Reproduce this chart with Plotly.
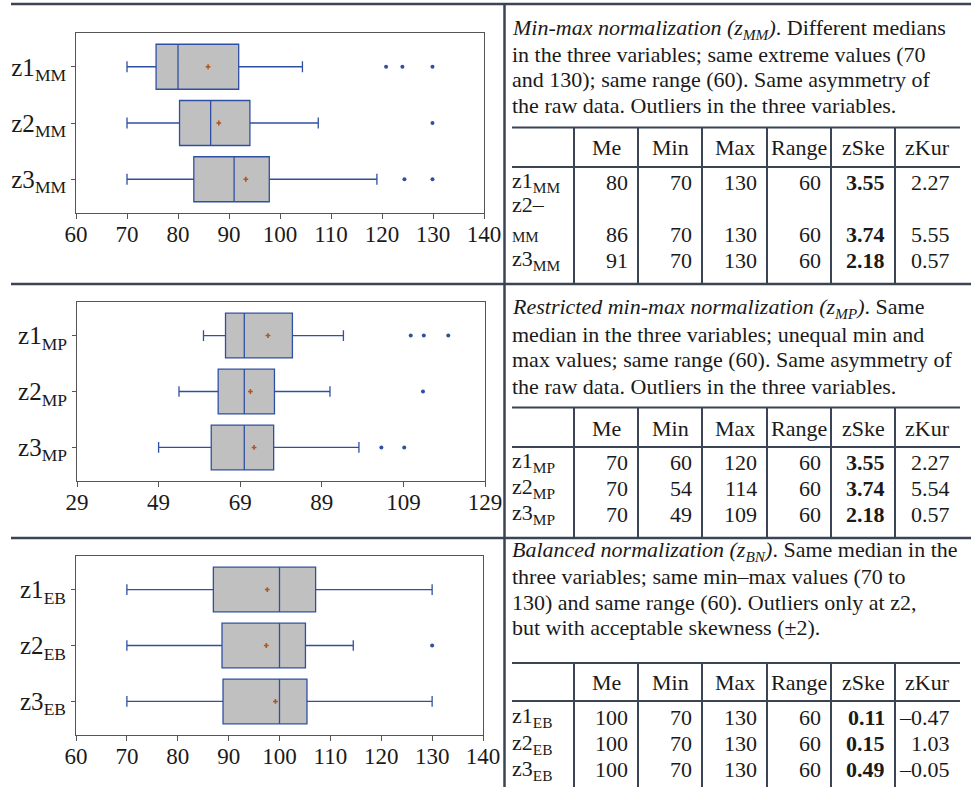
import plotly.graph_objects as go

W, H = 971, 787


def px(x):
    return x / W


def py(y):
    return 1 - y / H


# ---------------- data: boxplots ----------------
rows = ["z1", "z2", "z3"]

mm_q1 = [75.7, 80.3, 83.1]
mm_med = [80.0, 86.4, 91.0]
mm_q3 = [91.9, 94.1, 97.9]
mm_lo = [70, 70, 70]
mm_hi = [104.4, 107.5, 119.0]
mm_mean = [85.9, 88.0, 93.3]
mm_out_x = [120.8, 124.0, 129.9, 129.9, 124.4, 129.9]
mm_out_y = ["z1", "z1", "z1", "z2", "z3", "z3"]
mm_ticks = [60, 70, 80, 90, 100, 110, 120, 130, 140]

mp_q1 = [65.4, 63.6, 61.9]
mp_med = [70, 70, 70]
mp_q3 = [81.8, 77.4, 77.2]
mp_lo = [60, 54, 49]
mp_hi = [94.3, 91.0, 98.1]
mp_mean = [75.8, 71.5, 72.4]
mp_out_x = [110.8, 114.0, 120.0, 113.8, 103.6, 109.2]
mp_out_y = ["z1", "z1", "z1", "z2", "z3", "z3"]
mp_ticks = [29, 49, 69, 89, 109, 129]

eb_q1 = [87.0, 88.7, 88.9]
eb_med = [100, 100, 100]
eb_q3 = [107.1, 105.1, 105.4]
eb_lo = [70, 70, 70]
eb_hi = [130, 114.5, 130]
eb_mean = [97.6, 97.4, 99.2]
eb_out_x = [130]
eb_out_y = ["z2"]
eb_ticks = [60, 70, 80, 90, 100, 110, 120, 130, 140]

# ---------------- data: tables ----------------
headers = ["Me", "Min", "Max", "Range", "zSke", "zKur"]
mm_table = [["80", "70", "130", "60", "3.55", "2.27"],
            ["86", "70", "130", "60", "3.74", "5.55"],
            ["91", "70", "130", "60", "2.18", "0.57"]]
mp_table = [["70", "60", "120", "60", "3.55", "2.27"],
            ["70", "54", "114", "60", "3.74", "5.54"],
            ["70", "49", "109", "60", "2.18", "0.57"]]
eb_table = [["100", "70", "130", "60", "0.11", "\u20130.47"],
            ["100", "70", "130", "60", "0.15", "1.03"],
            ["100", "70", "130", "60", "0.49", "\u20130.05"]]

mm_text = ["<i>Min-max normalization (z<sub>MM</sub>)</i>. Different medians",
           "in the three variables; same extreme values (70",
           "and 130); same range (60). Same asymmetry of",
           "the raw data. Outliers in the three variables."]
mp_text = ["<i>Restricted min-max normalization (z<sub>MP</sub>)</i>. Same",
           "median in the three variables; unequal min and",
           "max values; same range (60). Same asymmetry of",
           "the raw data. Outliers in the three variables."]
eb_text = ["<i>Balanced normalization (z<sub>BN</sub>)</i>. Same median in the",
           "three variables; same min\u2013max values (70 to",
           "130) and same range (60). Outliers only at z2,",
           "but with acceptable skewness (\u00b12)."]

# ---------------- styling ----------------
FONT = "'Liberation Serif', 'Times New Roman', 'DejaVu Serif', serif"
TXT = "#1a1a1a"
BLUE = "#2f50a2"
FILL = "#c0c0c0"
MEANC = "#b0561e"
RULE = "#3b4455"
FRAME = "#555555"
PARA_SIZE = 22
CELL_SIZE = 22

panels = [
    dict(sub="MM", q1=mm_q1, med=mm_med, q3=mm_q3, lo=mm_lo, hi=mm_hi, mean=mm_mean,
         ox=mm_out_x, oy=mm_out_y, ticks=mm_ticks, xd=(76, 484), yd=(33, 213)),
    dict(sub="MP", q1=mp_q1, med=mp_med, q3=mp_q3, lo=mp_lo, hi=mp_hi, mean=mp_mean,
         ox=mp_out_x, oy=mp_out_y, ticks=mp_ticks, xd=(77, 485), yd=(302, 481)),
    dict(sub="EB", q1=eb_q1, med=eb_med, q3=eb_q3, lo=eb_lo, hi=eb_hi, mean=eb_mean,
         ox=eb_out_x, oy=eb_out_y, ticks=eb_ticks, xd=(76, 483), yd=(556, 735)),
]

fig = go.Figure()
layout = dict(
    template="none",
    width=W, height=H, margin=dict(l=0, r=0, t=0, b=0, pad=0, autoexpand=False),
    paper_bgcolor="white", plot_bgcolor="white", showlegend=False,
    font=dict(family=FONT, color=TXT),
)

for i, p in enumerate(panels):
    n = "" if i == 0 else str(i + 1)
    xa, ya = "x" + n, "y" + n
    fig.add_trace(go.Box(
        orientation="h", y=rows, q1=p["q1"], median=p["med"], q3=p["q3"],
        lowerfence=p["lo"], upperfence=p["hi"],
        fillcolor=FILL, line=dict(color=BLUE, width=1.3),
        width=0.8, whiskerwidth=0.24, xaxis=xa, yaxis=ya,
        hoverinfo="skip", showlegend=False))
    fig.add_trace(go.Scatter(
        x=p["mean"], y=rows, mode="markers", xaxis=xa, yaxis=ya,
        marker=dict(symbol="cross", size=4, color=MEANC, line=dict(width=0)),
        hoverinfo="skip", showlegend=False))
    fig.add_trace(go.Scatter(
        x=p["ox"], y=p["oy"], mode="markers", xaxis=xa, yaxis=ya,
        marker=dict(symbol="circle", size=4, color=BLUE, line=dict(width=0)),
        hoverinfo="skip", showlegend=False))
    layout["xaxis" + n] = dict(
        domain=[px(p["xd"][0]), px(p["xd"][1])], anchor=ya, automargin=False,
        range=[p["ticks"][0], p["ticks"][-1]], tickvals=p["ticks"],
        showgrid=False, zeroline=False, showline=True, mirror=True,
        linecolor=FRAME, linewidth=1, ticks="outside", ticklen=5,
        ticklabelstandoff=-5,
        tickcolor=FRAME, tickfont=dict(family=FONT, size=23, color=TXT))
    layout["yaxis" + n] = dict(
        domain=[py(p["yd"][1]), py(p["yd"][0])], anchor=xa, automargin=False,
        type="category", categoryorder="array", categoryarray=rows,
        range=[2.6, -0.6], tickvals=rows,
        ticktext=[r + "<sub>" + p["sub"] + "</sub>" for r in rows],
        showgrid=False, zeroline=False, showline=True, mirror=True,
        linecolor=FRAME, linewidth=1, ticks="outside", ticklen=4,
        tickcolor=FRAME, tickfont=dict(family=FONT, size=25, color=TXT))

shapes = []
annotations = []


def hline(x0, x1, y, w=2):
    shapes.append(dict(type="line", xref="paper", yref="paper",
                       x0=px(x0), x1=px(x1), y0=py(y), y1=py(y),
                       line=dict(color=RULE, width=w)))


def vline(x, y0, y1, w=2):
    shapes.append(dict(type="line", xref="paper", yref="paper",
                       x0=px(x), x1=px(x), y0=py(y0), y1=py(y1),
                       line=dict(color=RULE, width=w)))


def text(s, x, y, anchor="left", size=CELL_SIZE):
    annotations.append(dict(text=s, x=px(x), y=py(y), xref="paper", yref="paper",
                            xanchor=anchor, yanchor="middle", showarrow=False,
                            font=dict(family=FONT, size=size, color=TXT)))


# outer rules
hline(11, 971, 4, 2.5)
hline(11, 971, 284, 2.5)
hline(11, 971, 538, 2.5)
vline(504.5, 3, 787, 2.5)

# continued marker at top right (clipped)
annotations.append(dict(text="(Continued)", x=px(967), y=py(2), xref="paper", yref="paper",
                        xanchor="right", yanchor="bottom", showarrow=False,
                        font=dict(family=FONT, size=18, color=TXT)))

cols = [512, 574, 638, 702, 767, 831, 895, 960]

sections = [
    dict(sub="MM", para=mm_text, para_y=[29, 54.5, 80, 105.5], table=mm_table,
         top=127.5, head=148, under=167, bottom=284, row_y=[182, 235, 260]),
    dict(sub="MP", para=mp_text, para_y=[308, 334, 360, 386], table=mp_table,
         top=407.5, head=428, under=447, bottom=538, row_y=[462, 488, 514]),
    dict(sub="EB", para=eb_text, para_y=[551, 576.5, 602, 627.5], table=eb_table,
         top=663, head=682, under=701, bottom=787, row_y=[717, 743.5, 769.5]),
]

for s in sections:
    for line, y in zip(s["para"], s["para_y"]):
        text(line, 510, y, size=PARA_SIZE)
    hline(cols[0], cols[-1], s["top"])
    hline(cols[0], cols[-1], s["under"])
    for c in cols[1:-1]:
        vline(c, s["top"], s["bottom"])
    for j, h in enumerate(headers):
        text(h, (cols[j + 1] + cols[j + 2]) / 2, s["head"], anchor="center")
    for r, (vals, y) in enumerate(zip(s["table"], s["row_y"])):
        if s["sub"] == "MM" and r == 1:
            text("z2\u2013", 510, 204)
            text("MM", 510, y + 2, size=15)
        else:
            text(rows[r] + "<sub>" + s["sub"] + "</sub>", 510, y)
        for j, v in enumerate(vals):
            label = "<b>" + v + "</b>" if headers[j] == "zSke" else v
            text(label, cols[j + 2] - 8, y, anchor="right")

layout["shapes"] = shapes
layout["annotations"] = annotations
fig.update_layout(**layout)

fig.write_html("out.html", config={"displayModeBar": False},
               post_script="document.body.style.margin='0px';")
